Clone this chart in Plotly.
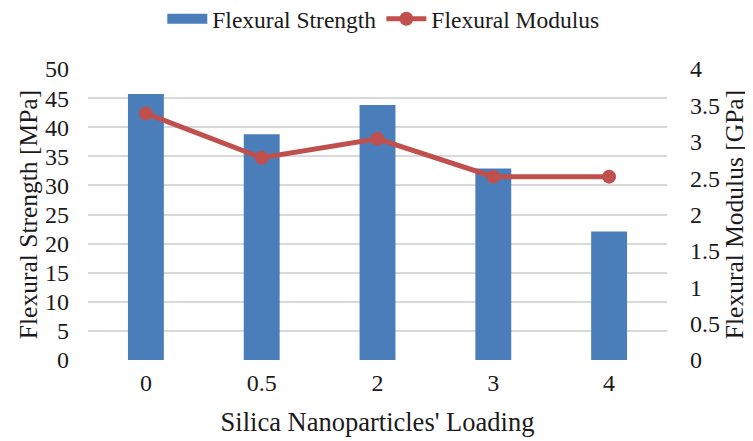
import plotly.graph_objects as go

categories = ["0", "0.5", "2", "3", "4"]
strength = [45.7, 38.8, 43.8, 32.9, 22.1]
modulus = [3.39, 2.78, 3.04, 2.52, 2.52]

left_ticks = [0, 5, 10, 15, 20, 25, 30, 35, 40, 45, 50]
right_ticks = [0, 0.5, 1, 1.5, 2, 2.5, 3, 3.5, 4]

font_family = "Liberation Serif, Times New Roman, serif"
BLUE = "#4A7EBB"
RED = "#C0504D"

fig = go.Figure()
fig.add_trace(go.Bar(
    x=categories, y=strength, name="Flexural Strength",
    marker=dict(color=BLUE, line=dict(width=0)),
    yaxis="y", showlegend=False,
))
# legend proxy (wide rectangle symbol like the reference)
fig.add_trace(go.Scatter(
    x=[None], y=[None], name="Flexural Strength", mode="lines",
    line=dict(color=BLUE, width=10), yaxis="y", legendrank=1,
))
fig.add_trace(go.Scatter(
    x=categories, y=modulus, name="Flexural Modulus",
    mode="lines+markers",
    line=dict(color=RED, width=5),
    marker=dict(color=RED, size=14),
    yaxis="y2", legendrank=2,
))

fig.update_layout(
    width=753, height=441,
    margin=dict(l=80, r=94, t=61, b=89, autoexpand=False),
    paper_bgcolor="white", plot_bgcolor="white",
    font=dict(family=font_family, size=24, color="#1a1a1a"),
    bargap=0.69,
    showlegend=True,
    legend=dict(orientation="h", x=0.51, xanchor="center", y=1.172, yanchor="middle",
                font=dict(size=23.5), itemwidth=40, traceorder="normal"),
    xaxis=dict(
        type="category", showgrid=False, ticks="", showline=False,
        title=dict(text="Silica Nanoparticles' Loading", font=dict(size=26.5), standoff=17),
        tickfont=dict(size=24), ticklabelstandoff=6,
    ),
    yaxis=dict(
        range=[0, 50], tickvals=left_ticks, showgrid=True, gridcolor="#D9D9D9", gridwidth=1.5,
        zeroline=False, ticks="", showline=False,
        title=dict(text="Flexural Strength [MPa]", font=dict(size=25.5), standoff=0),
        tickfont=dict(size=24), ticklabelstandoff=18,
    ),
    yaxis2=dict(
        range=[0, 4], tickvals=right_ticks, overlaying="y", side="right",
        showgrid=False, zeroline=False, ticks="", showline=False,
        title=dict(text="Flexural Modulus [GPa]", font=dict(size=25.5), standoff=1),
        tickfont=dict(size=24), ticklabelstandoff=22,
    ),
)

fig.write_html("out.html")
